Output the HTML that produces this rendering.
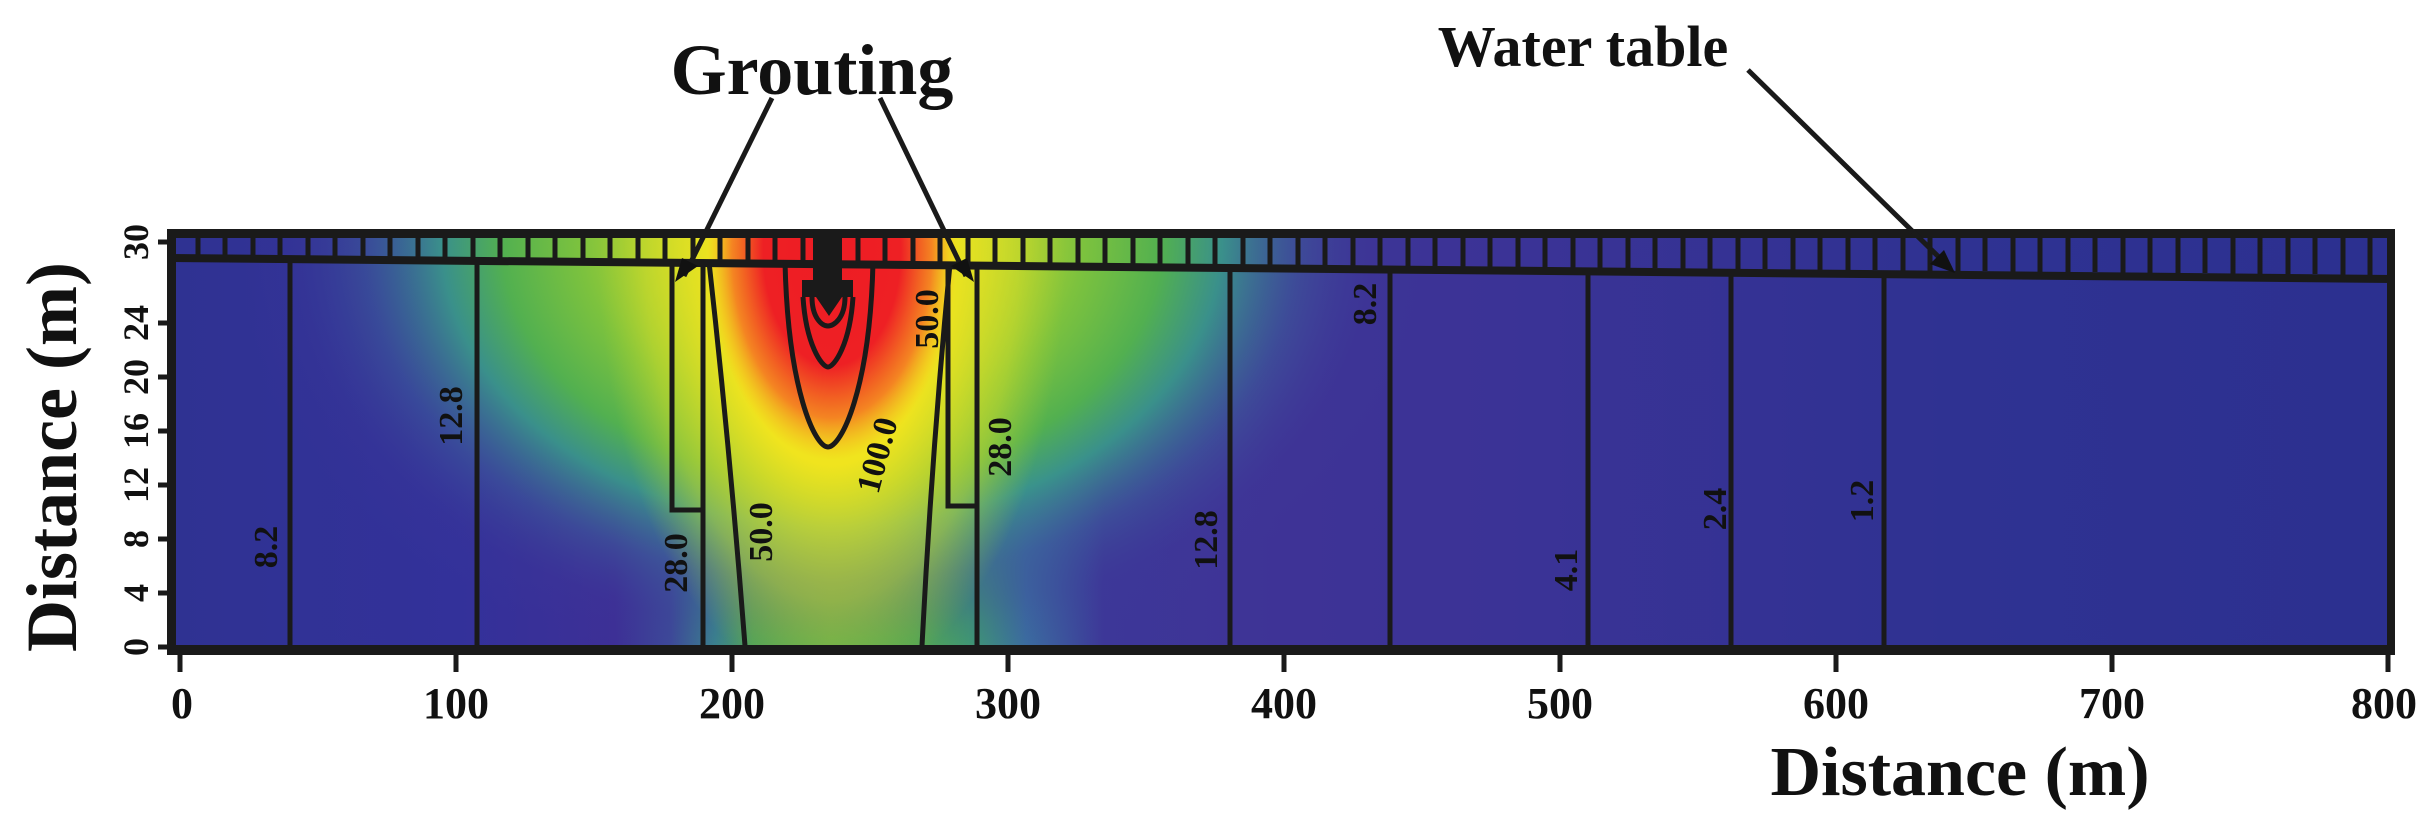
<!DOCTYPE html>
<html><head><meta charset="utf-8"><style>
html,body{margin:0;padding:0;background:#fff;}
svg{display:block;}
text{font-family:"Liberation Serif",serif;font-weight:bold;fill:#111;}
</style></head><body>
<svg width="2417" height="834" viewBox="0 0 2417 834" xmlns="http://www.w3.org/2000/svg">
<defs>
<linearGradient id="base" x1="171" y1="0" x2="2392" y2="0" gradientUnits="userSpaceOnUse">
<stop offset="0" stop-color="#2f3292"/>
<stop offset="0.13" stop-color="#33319a"/>
<stop offset="0.2" stop-color="#3d2f96"/>
<stop offset="0.225" stop-color="#3d4a98"/>
<stop offset="0.245" stop-color="#3a8a8c"/>
<stop offset="0.262" stop-color="#50b050"/>
<stop offset="0.297" stop-color="#66bb44"/>
<stop offset="0.335" stop-color="#58b748"/>
<stop offset="0.36" stop-color="#3fa070"/>
<stop offset="0.385" stop-color="#3b6ea0"/>
<stop offset="0.42" stop-color="#3d3798"/>
<stop offset="0.5" stop-color="#3e3396"/>
<stop offset="0.6" stop-color="#3b3396"/>
<stop offset="0.8" stop-color="#2f3292"/>
<stop offset="1" stop-color="#2c3090"/>
</linearGradient>
<radialGradient id="wide" cx="832" cy="240" r="1" gradientUnits="userSpaceOnUse" gradientTransform="translate(832,240) scale(600,440) translate(-832,-240)">
<stop offset="0" stop-color="#e0e022"/>
<stop offset="0.25" stop-color="#c8d82a"/>
<stop offset="0.42" stop-color="#7cc23e"/>
<stop offset="0.55" stop-color="#52b050"/>
<stop offset="0.65" stop-color="#3a958a" stop-opacity="0.95"/>
<stop offset="0.78" stop-color="#3d5a9a" stop-opacity="0.6"/>
<stop offset="0.9" stop-color="#3d3a98" stop-opacity="0.2"/>
<stop offset="1" stop-color="#3d3a98" stop-opacity="0"/>
</radialGradient>
<radialGradient id="tall" cx="832" cy="240" r="1" gradientUnits="userSpaceOnUse" gradientTransform="translate(832,240) scale(260,500) translate(-832,-240)">
<stop offset="0" stop-color="#f3e41e"/>
<stop offset="0.45" stop-color="#f0e41e"/>
<stop offset="0.72" stop-color="#cfdc28" stop-opacity="0.5"/>
<stop offset="0.9" stop-color="#a8d030" stop-opacity="0"/>
</radialGradient>
<radialGradient id="red" cx="832" cy="250" r="1" gradientUnits="userSpaceOnUse" gradientTransform="translate(832,250) scale(125,210) translate(-832,-250)">
<stop offset="0" stop-color="#ed1c24"/>
<stop offset="0.55" stop-color="#ee2024"/>
<stop offset="0.8" stop-color="#f47a22" stop-opacity="0.9"/>
<stop offset="1" stop-color="#f5b020" stop-opacity="0"/>
</radialGradient>
<clipPath id="pc"><rect x="171" y="232" width="2221" height="416"/></clipPath>
</defs>

<g clip-path="url(#pc)">
<rect x="171" y="232" width="2221" height="416" fill="url(#base)"/>
<rect x="171" y="232" width="2221" height="416" fill="url(#wide)"/>
<rect x="171" y="232" width="2221" height="416" fill="url(#tall)"/>
<rect x="171" y="232" width="2221" height="416" fill="url(#red)"/>
</g>

<g stroke="#1a1a1a" stroke-width="5">
<path d="M198,236V262 M225,236V262 M253,236V262 M280,236V262 M308,236V262 M335,236V262 M363,236V262 M390,236V262 M418,236V262 M445,236V262 M473,236V262 M500,236V262 M528,236V262 M555,236V262 M583,236V262 M610,236V262 M638,236V262 M665,236V262 M693,236V262 M720,236V262 M748,236V262 M775,236V262 M803,236V262 M858,236V262 M885,236V262 M913,236V262 M940,236V262 M968,236V262 M995,236V262 M1023,236V263 M1050,236V263 M1078,236V263 M1105,236V263 M1133,236V264 M1160,236V264 M1188,236V264 M1215,236V264 M1243,236V265 M1270,236V265 M1298,236V265 M1325,236V265 M1353,236V266 M1380,236V266 M1408,236V266 M1435,236V266 M1463,236V267 M1490,236V267 M1518,236V267 M1545,236V267 M1573,236V268 M1600,236V268 M1628,236V268 M1655,236V268 M1683,236V269 M1710,236V269 M1738,236V269 M1765,236V269 M1793,236V270 M1820,236V270 M1848,236V270 M1875,236V270 M1903,236V271 M1930,236V271 M1958,236V271 M1985,236V271 M2013,236V272 M2040,236V272 M2068,236V272 M2095,236V272 M2123,236V273 M2150,236V273 M2178,236V273 M2205,236V273 M2233,236V274 M2260,236V274 M2288,236V274 M2315,236V274 M2343,236V275 M2370,236V275"/>
</g>

<rect x="171" y="229" width="2221" height="9" fill="#1a1a1a"/>
<path d="M171,258 L2392,279" stroke="#1a1a1a" stroke-width="8"/>
<rect x="167" y="229" width="9" height="425" fill="#1a1a1a"/>
<rect x="2387" y="229" width="8" height="425" fill="#1a1a1a"/>
<rect x="167" y="645" width="2228" height="10" fill="#1a1a1a"/>

<g stroke="#1a1a1a" stroke-width="5" fill="none">
<path d="M290,260V646 M477,262V646 M1230,270V646 M1390,272V646 M1588,274V646 M1731,275V646 M1884,276V646"/>
<path d="M703,262V646 M672,262V510 H703"/>
<path d="M977,264V646 M948,264V506 H977"/>
<path d="M709,262 Q730,450 745,646"/>
<path d="M950,264 Q932,450 922,646"/>
<path d="M785,262 C788,390 815,447 828,447 C841,447 870,390 873,262"/>
<path d="M803,297 C806,345 822,367 828,367 C834,367 850,345 853,297"/>
<path d="M812,297 C812,318 822,326 828,326 C834,326 845,318 845,297"/>
</g>
<rect x="813" y="234" width="29" height="48" fill="#1a1a1a"/>
<path d="M802,280 H853 V297 H842 L829,316 L816,297 H802 Z" fill="#1a1a1a"/>

<g stroke="#1a1a1a" stroke-width="5" fill="none">
<path d="M772,98 L684,276"/>
<path d="M880,98 L966,276"/>
<path d="M1748,70 L1950,268"/>
</g>
<path d="M675,282 L682,258 L698,266 Z" fill="#111"/>
<path d="M974,282 L951,266 L967,258 Z" fill="#111"/>
<path d="M1955,273 L1930,264 L1944,250 Z" fill="#111"/>

<g font-size="34">
<text transform="translate(277,547) rotate(-90)" text-anchor="middle">8.2</text>
<text transform="translate(462,416) rotate(-90)" text-anchor="middle">12.8</text>
<text transform="translate(687,563) rotate(-90)" text-anchor="middle">28.0</text>
<text transform="translate(772,532) rotate(-90)" text-anchor="middle">50.0</text>
<text transform="translate(888,458) rotate(-75)" text-anchor="middle">100.0</text>
<text transform="translate(938,319) rotate(-90)" text-anchor="middle">50.0</text>
<text transform="translate(1011,447) rotate(-90)" text-anchor="middle">28.0</text>
<text transform="translate(1217,540) rotate(-90)" text-anchor="middle">12.8</text>
<text transform="translate(1376,304) rotate(-90)" text-anchor="middle">8.2</text>
<text transform="translate(1577,570) rotate(-90)" text-anchor="middle">4.1</text>
<text transform="translate(1726,509) rotate(-90)" text-anchor="middle">2.4</text>
<text transform="translate(1873,501) rotate(-90)" text-anchor="middle">1.2</text>
</g>

<g stroke="#1a1a1a" stroke-width="5">
<path d="M158,647H171 M158,593H171 M158,539H171 M158,485H171 M158,431H171 M158,377H171 M158,323H171 M158,242H171"/>
</g>
<g font-size="36" text-anchor="middle">
<text transform="translate(148,647) rotate(-90)">0</text>
<text transform="translate(148,593) rotate(-90)">4</text>
<text transform="translate(148,539) rotate(-90)">8</text>
<text transform="translate(148,485) rotate(-90)">12</text>
<text transform="translate(148,431) rotate(-90)">16</text>
<text transform="translate(148,377) rotate(-90)">20</text>
<text transform="translate(148,323) rotate(-90)">24</text>
<text transform="translate(148,242) rotate(-90)">30</text>
</g>

<g stroke="#1a1a1a" stroke-width="5">
<path d="M180,650V672 M456,650V672 M732,650V672 M1008,650V672 M1284,650V672 M1560,650V672 M1836,650V672 M2112,650V672 M2388,650V672"/>
</g>
<g font-size="44" text-anchor="middle">
<text x="182" y="718">0</text>
<text x="456" y="718">100</text>
<text x="732" y="718">200</text>
<text x="1008" y="718">300</text>
<text x="1284" y="718">400</text>
<text x="1560" y="718">500</text>
<text x="1836" y="718">600</text>
<text x="2112" y="718">700</text>
<text x="2384" y="718">800</text>
</g>

<text x="1960" y="795" font-size="70" text-anchor="middle">Distance (m)</text>
<text transform="translate(76,457) rotate(-90)" font-size="72" text-anchor="middle">Distance (m)</text>
<text x="812" y="94" font-size="72" text-anchor="middle">Grouting</text>
<text x="1583" y="66" font-size="58" text-anchor="middle">Water table</text>
</svg>
</body></html>
